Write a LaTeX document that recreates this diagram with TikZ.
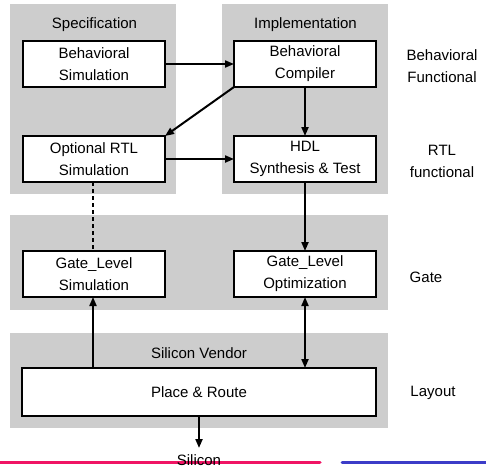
\documentclass[tikz,border=0pt]{standalone}
\usepackage{fontspec}
\setmainfont{Liberation Sans}
\usetikzlibrary{arrows.meta}
\definecolor{panelgray}{RGB}{205,205,205}
\definecolor{linepink}{RGB}{240,20,100}
\definecolor{lineblue}{RGB}{60,60,200}
\begin{document}
\begin{tikzpicture}[x=1pt,y=-1pt,
  panel/.style={fill=panelgray, draw=none, inner sep=0, outer sep=0},
  box/.style={draw, fill=white, line width=2pt, align=center, inner sep=0, outer sep=0,
    font=\fontsize{15}{22}\selectfont},
  lbl/.style={align=center, inner sep=0, font=\fontsize{15}{22}\selectfont},
  arr/.style={line width=2pt, -{Triangle[length=9pt,width=7pt]}},
  darr/.style={line width=2pt, {Triangle[length=9pt,width=7pt]}-{Triangle[length=9pt,width=7pt]}},
  plain/.style={line width=2pt}
]
\useasboundingbox (0,0) rectangle (486,469);
% panels
\node[panel, minimum width=166pt, minimum height=190pt] (spec) at (93,99) {};
\node[panel, minimum width=166pt, minimum height=190pt] (impl) at (305,99) {};
\node[panel, minimum width=378pt, minimum height=95pt] (gate) at (199,262.5) {};
\node[panel, minimum width=378pt, minimum height=95pt] (vend) at (199,380.5) {};
% panel titles
\node[lbl] (tspec) at (94.5,25) {Specification};
\node[lbl] (timpl) at (305.5,25) {Implementation};
\node[lbl] (tvend) at (199,353) {Silicon Vendor};
% boxes
\node[box, minimum width=142pt, minimum height=46pt] (bsim) at (94,64) {Behavioral\\Simulation};
\node[box, minimum width=142pt, minimum height=46pt] (bcomp) at (305,64) {Behavioral\\Compiler};
\node[box, minimum width=142pt, minimum height=46pt] (rtl) at (94,159) {Optional RTL\\Simulation};
\node[box, minimum width=142pt, minimum height=46pt] (hdl) at (305,159) {HDL\\Synthesis \& Test};
\node[box, minimum width=142pt, minimum height=46pt] (gsim) at (94,274) {Gate\_Level\\Simulation};
\node[box, minimum width=142pt, minimum height=46pt] (gopt) at (305,274) {Gate\_Level\\Optimization};
\node[box, minimum width=354pt, minimum height=48pt] (pr) at (199,392) {Place \& Route};
% right labels
\node[lbl] (lbeh) at (442,66) {Behavioral\\Functional};
\node[lbl] (lrtl) at (442,161.5) {RTL\\functional};
\node[lbl] (lgate) at (426,277) {Gate};
\node[lbl] (llay) at (433,393) {Layout};
% connectors
\draw[arr] (bsim.east) -- (bcomp.west);
\draw[arr] (bcomp.south west) -- (rtl.north east);
\draw[arr] (rtl.east) -- (hdl.west);
\draw[arr] (bcomp.south) -- (hdl.north);
\draw[arr] (hdl.south) -- (gopt.north);
\draw[plain, dash pattern=on 4pt off 3pt] (rtl.south -| 93,0) -- (gsim.north -| 93,0);
\draw[arr] (pr.north -| 93,0) -- (gsim.south -| 93,0);
\draw[darr] (gopt.south) -- (pr.north -| gopt.south);
% bottom lines
\draw[linepink, line width=3pt, line cap=round] (0,462) -- (320,462);
\draw[lineblue, line width=3pt, line cap=round] (342,462) -- (486,462);
\coordinate (sil) at (199,448);
\draw[arr] (pr.south) -- (sil);
\node[lbl] (tsil) at (199,460) {Silicon};
\end{tikzpicture}
\end{document}
